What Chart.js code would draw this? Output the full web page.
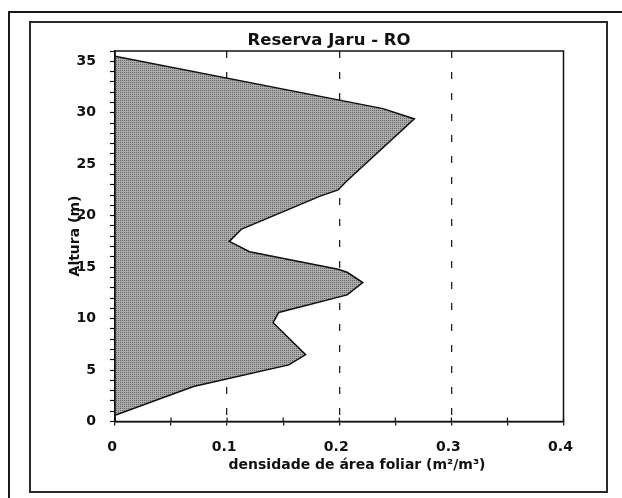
<!DOCTYPE html>
<html lang="pt">
<head>
<meta charset="utf-8">
<title>Reserva Jaru - RO</title>
<script src="https://cdn.jsdelivr.net/npm/chart.js@4.4.1/dist/chart.umd.min.js"></script>
<style>
  html, body { margin: 0; padding: 0; background: #fff; }
  #pagina { position: relative; width: 622px; height: 498px; overflow: hidden; background: #fff; }
  #moldura-externa { position: absolute; left: 8px; top: 11px; width: 700px; height: 600px; border: 2px solid #1a1a1a; }
  #moldura-interna { position: absolute; left: 29px; top: 21px; width: 575px; height: 468px; border: 2px solid #2a2a2a; }
  #grafico { position: absolute; left: 0; top: 0; }
</style>
</head>
<body>
<div id="pagina">
  <div id="moldura-externa"></div>
  <div id="moldura-interna"></div>
  <canvas id="grafico" width="622" height="498"></canvas>
</div>
<script>
// Perfil vertical de densidade de área foliar
const titulo = 'Reserva Jaru - RO';
const tituloX = 'densidade de área foliar (m²/m³)';
const tituloY = 'Altura (m)';

// altura (m), de baixo para cima
const alturas = [0.6, 3.4, 5.5, 6.5, 9.6, 10.6, 12.3, 13.5, 14.5, 14.8, 16.5, 17.5, 18.7, 21.9, 22.5, 23.3, 29.4, 30.4, 35.5];
// densidade de área foliar (m²/m³) em cada altura
const densidade = [0, 0.070, 0.155, 0.170, 0.141, 0.146, 0.207, 0.221, 0.207, 0.199, 0.120, 0.102, 0.113, 0.183, 0.199, 0.206, 0.267, 0.239, 0];

// eixos
const xMin = 0, xMax = 0.4, xPasso = 0.05;
const yMin = 0, yMax = 36, yPasso = 1;
const linhasTracejadas = [0.1, 0.2, 0.3];

const fonte = '"DejaVu Sans", "Liberation Sans", sans-serif';

// retícula pontilhada cinza do preenchimento
function trama(ctx) {
  const c = document.createElement('canvas');
  c.width = 2; c.height = 2;
  const g = c.getContext('2d');
  g.fillStyle = '#acacac'; g.fillRect(0, 0, 2, 2);
  g.fillStyle = '#666666'; g.fillRect(0, 0, 1, 1);
  return ctx.createPattern(c, 'repeat');
}

const canvas = document.getElementById('grafico');
const ctx = canvas.getContext('2d');

const pontos = alturas.map((h, i) => ({ x: densidade[i], y: h }));

// moldura do gráfico, traços internos do eixo x e textos
const extras = {
  id: 'extras',
  afterDraw(chart) {
    const c = chart.ctx;
    const a = chart.chartArea;
    const sx = chart.scales.x;
    c.save();
    c.setLineDash([]);
    c.strokeStyle = '#111';
    c.lineWidth = 1.5;
    c.strokeRect(a.left, a.top, a.right - a.left, a.bottom - a.top);
    c.lineWidth = 1.2;
    sx.ticks.forEach((t, i) => {
      const px = sx.getPixelForTick(i);
      c.beginPath();
      c.moveTo(px, a.bottom - 4);
      c.lineTo(px, a.bottom);
      c.stroke();
    });
    c.fillStyle = '#111';
    c.textAlign = 'center';
    c.textBaseline = 'middle';
    c.font = 'bold 16.5px ' + fonte;
    c.fillText(titulo, a.left + 214, a.top - 10);
    c.font = 'bold 14px ' + fonte;
    c.fillText(tituloX, a.left + 242, a.bottom + 44);
    c.translate(a.left - 40, a.top + 185);
    c.rotate(-Math.PI / 2);
    c.fillText(tituloY, 0, 0);
    c.restore();
  }
};

function rotuloX(v) {
  const r = Math.round(v / xPasso);
  if (r % 2 !== 0) return '';
  return r === 0 ? '0' : (r * xPasso).toFixed(1);
}

new Chart(ctx, {
  type: 'line',
  data: {
    datasets: [{
      data: pontos,
      borderColor: '#111',
      borderWidth: 1.5,
      backgroundColor: trama(ctx),
      fill: 'shape',
      pointRadius: 0,
      tension: 0
    }]
  },
  options: {
    responsive: false,
    animation: false,
    events: [],
    layout: { padding: { left: 0, top: 51, right: 58.5, bottom: 0 } },
    plugins: {
      legend: { display: false },
      title: { display: false },
      tooltip: { enabled: false }
    },
    scales: {
      x: {
        type: 'linear',
        min: xMin, max: xMax,
        afterFit(s) { s.height = 76.5; },
        ticks: {
          stepSize: xPasso,
          autoSkip: false,
          maxRotation: 0,
          padding: 13,
          labelOffset: -3,
          color: '#111',
          font: { family: fonte, size: 14, weight: 'bold' },
          callback: rotuloX
        },
        grid: {
          drawOnChartArea: true,
          color: c => (c.tick && linhasTracejadas.some(v => Math.abs(v - c.tick.value) < 1e-6)) ? '#222' : 'rgba(0,0,0,0)',
          lineWidth: 1.3,
          tickColor: '#111',
          tickLength: 4,
          tickWidth: 1.2
        },
        border: { display: true, color: '#111', width: 1.5, dash: [7, 14], dashOffset: 0 }
      },
      y: {
        type: 'linear',
        min: yMin, max: yMax,
        afterFit(s) { s.width = 115; },
        ticks: {
          stepSize: yPasso,
          autoSkip: false,
          padding: 14,
          color: '#111',
          font: { family: fonte, size: 14, weight: 'bold' },
          callback: v => (v % 5 === 0 ? String(v) : '')
        },
        grid: {
          drawOnChartArea: false,
          tickColor: '#111',
          tickLength: 5,
          tickWidth: 1.2
        },
        border: { display: true, color: '#111', width: 1.5 }
      }
    }
  },
  plugins: [extras]
});
</script>
</body>
</html>
